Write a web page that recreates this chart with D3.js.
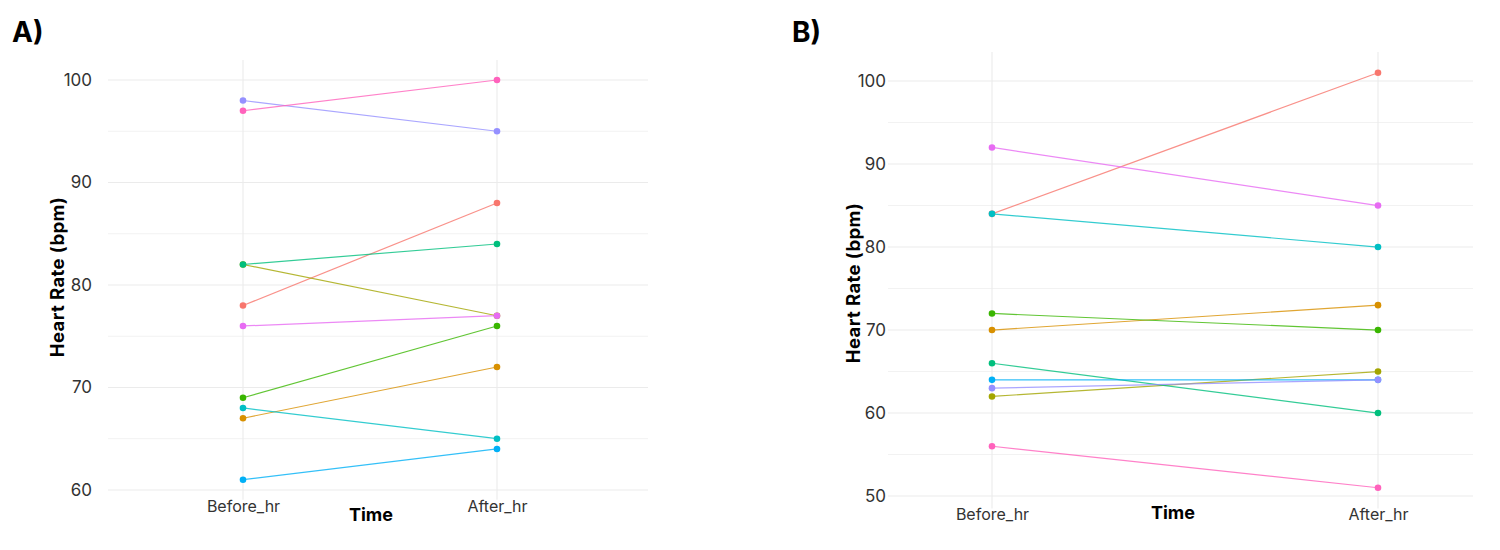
<!DOCTYPE html>
<html>
<head>
<meta charset="utf-8">
<script src="https://cdn.jsdelivr.net/npm/d3@7"></script>
<style>
  body { margin: 0; background: #fff; }
  text { font-family: Inter, sans-serif; }
</style>
</head>
<body>
<div id="chart"></div>
<script>
// Data
const times = ["Before_hr", "After_hr"];
const subjects = ["S1", "S2", "S3", "S4", "S5", "S6", "S7", "S8", "S9", "S10"];
const subjectColors = ["#F8766D", "#D89000", "#A3A500", "#39B600", "#00BF7D",
                       "#00BFC4", "#00B0F6", "#9590FF", "#E76BF3", "#FF62BC"];

const beforeA = [78, 67, 82, 69, 82, 68, 61, 98, 76, 97];
const afterA  = [88, 72, 77, 76, 84, 65, 64, 95, 77, 100];

const beforeB = [84, 70, 62, 72, 66, 84, 64, 63, 92, 56];
const afterB  = [101, 73, 65, 70, 60, 80, 64, 64, 85, 51];

const ticksA = [60, 70, 80, 90, 100];
const ticksB = [50, 60, 70, 80, 90, 100];

const svg = d3.select("#chart")
    .append("svg")
    .attr("width", 1500)
    .attr("height", 550);

const color = d3.scaleOrdinal()
    .domain(subjects)
    .range(subjectColors);

function drawPanel(opt) {
    const g = svg.append("g");

    const x = d3.scalePoint()
        .domain(times)
        .range(opt.points);

    const y = d3.scaleLinear()
        .domain(opt.domain)
        .range([opt.bottom, opt.top]);

    const [x0, x1] = opt.panelX;

    // minor grid lines
    const minor = d3.range(Math.ceil(opt.domain[0]), opt.domain[1], 1)
        .filter(v => v % 5 === 0 && v % 10 !== 0);
    g.append("g")
        .selectAll("line")
        .data(minor)
        .enter()
        .append("line")
        .attr("x1", x0).attr("x2", x1)
        .attr("y1", d => y(d)).attr("y2", d => y(d))
        .attr("stroke", "#f2f2f2")
        .attr("stroke-width", 1);

    // major grid lines
    g.append("g")
        .selectAll("line")
        .data(opt.ticks)
        .enter()
        .append("line")
        .attr("x1", x0).attr("x2", x1)
        .attr("y1", d => y(d)).attr("y2", d => y(d))
        .attr("stroke", "#ebebeb")
        .attr("stroke-width", 1.1);

    // vertical grid lines
    g.append("g")
        .selectAll("line")
        .data(times)
        .enter()
        .append("line")
        .attr("x1", d => x(d)).attr("x2", d => x(d))
        .attr("y1", opt.top).attr("y2", opt.bottom)
        .attr("stroke", "#ebebeb")
        .attr("stroke-width", 1.1);

    // y axis labels
    const yAxis = g.append("g")
        .attr("transform", `translate(${x0},0)`)
        .call(d3.axisLeft(y).tickValues(opt.ticks).tickSize(0).tickPadding(opt.tickPad));
    yAxis.select(".domain").remove();
    yAxis.selectAll("text")
        .attr("font-family", "Inter, sans-serif")
        .attr("font-size", 17)
        .attr("fill", "#333");

    // x axis labels
    const xAxis = g.append("g")
        .attr("transform", `translate(0,${opt.xLabelY})`)
        .call(d3.axisBottom(x).tickSize(0).tickPadding(0));
    xAxis.select(".domain").remove();
    xAxis.selectAll("text")
        .attr("y", 0)
        .attr("dy", 0)
        .attr("font-family", "Inter, sans-serif")
        .attr("font-size", 16)
        .attr("fill", "#333");

    // axis titles
    g.append("text")
        .attr("x", opt.timeX)
        .attr("y", opt.timeY)
        .attr("text-anchor", "middle")
        .attr("font-size", 18)
        .attr("font-weight", "bold")
        .text("Time");

    g.append("text")
        .attr("transform", "rotate(-90)")
        .attr("x", -opt.titleY)
        .attr("y", opt.titleX)
        .attr("text-anchor", "middle")
        .attr("font-size", 18.5)
        .attr("font-weight", "bold")
        .attr("letter-spacing", 0.4)
        .text("Heart Rate (bpm)");

    // panel tag
    g.append("text")
        .attr("x", opt.tagX)
        .attr("y", 42)
        .attr("font-size", 28)
        .attr("font-weight", "bold")
        .text(opt.tag);

    // lines and points
    const rows = subjects.map((s, i) => ({
        id: s,
        values: [
            { time: times[0], hr: opt.before[i] },
            { time: times[1], hr: opt.after[i] }
        ]
    }));

    const line = d3.line()
        .x(d => x(d.time))
        .y(d => y(d.hr));

    g.append("g")
        .selectAll("path")
        .data(rows)
        .enter()
        .append("path")
        .attr("d", d => line(d.values))
        .attr("fill", "none")
        .attr("stroke", d => color(d.id))
        .attr("stroke-opacity", 0.8)
        .attr("stroke-width", 1.2);

    rows.forEach(r => {
        g.append("g")
            .selectAll("circle")
            .data(r.values)
            .enter()
            .append("circle")
            .attr("cx", d => x(d.time))
            .attr("cy", d => y(d.hr))
            .attr("r", 3.3)
            .attr("fill", color(r.id));
    });
}

drawPanel({
    tag: "A)", tagX: 12,
    before: beforeA, after: afterA, ticks: ticksA,
    domain: [59.05, 101.95], top: 60, bottom: 499.7,
    points: [243, 497], panelX: [108, 648],
    tickPad: 16, xLabelY: 512,
    timeX: 371, timeY: 521,
    titleX: 64, titleY: 277
});

drawPanel({
    tag: "B)", tagX: 792,
    before: beforeB, after: afterB, ticks: ticksB,
    domain: [48.5, 103.5], top: 52, bottom: 508.5,
    points: [992, 1378], panelX: [888, 1473],
    tickPad: 2, xLabelY: 520,
    timeX: 1173, timeY: 519,
    titleX: 860, titleY: 283
});
</script>
</body>
</html>
